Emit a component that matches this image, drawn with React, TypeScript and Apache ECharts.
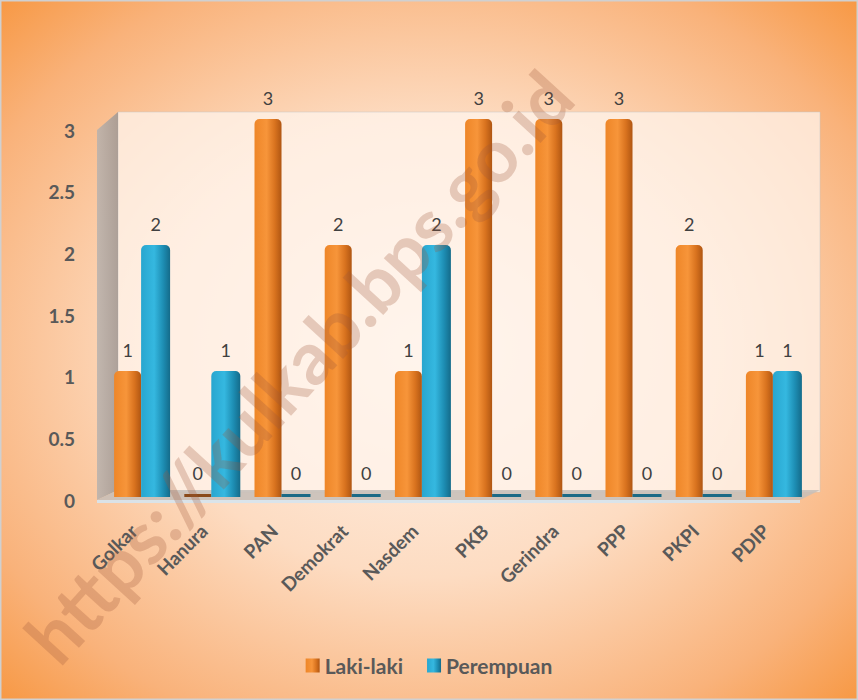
import React, { useEffect, useRef } from "react";
import * as echarts from "echarts";

const categories = ["Golkar", "Hanura", "PAN", "Demokrat", "Nasdem", "PKB", "Gerindra", "PPP", "PKPI", "PDIP"];
const lakiLaki = [1, 0, 3, 2, 1, 3, 3, 3, 2, 1];
const perempuan = [2, 1, 0, 0, 2, 0, 0, 0, 0, 1];
const seriesNames = ["Laki-laki", "Perempuan"];
const yTicks = [0, 0.5, 1, 1.5, 2, 2.5, 3];

const FONT = "Lato, 'Open Sans', sans-serif";

export default function App() {
  const ref = useRef<HTMLDivElement>(null);
  useEffect(() => {
    document.body.style.margin = "0";
    const chart = echarts.init(ref.current!, null, { renderer: "svg" });
    const orange = new echarts.graphic.LinearGradient(0, 0, 1, 0, [
      { offset: 0, color: "#EE8628" },
      { offset: 0.45, color: "#F7953A" },
      { offset: 0.75, color: "#D9731F" },
      { offset: 1, color: "#B05612" },
    ]);
    const blue = new echarts.graphic.LinearGradient(0, 0, 1, 0, [
      { offset: 0, color: "#28A6CF" },
      { offset: 0.45, color: "#35B8E0" },
      { offset: 0.75, color: "#1E8FB5" },
      { offset: 1, color: "#146B8A" },
    ]);
    const labelStyle = {
      show: true,
      position: "top" as const,
      distance: 12,
      color: "#404040",
      fontFamily: FONT,
      fontSize: 18,
    };
    const toData = (arr: number[], stub: string) =>
      arr.map((v) => (v === 0 ? { value: v, itemStyle: { color: stub, borderRadius: 0 } } : v));
    const yMin = yTicks[0];
    const yMax = yTicks[yTicks.length - 1];
    chart.setOption({
      animation: false,
      backgroundColor: {
        type: "radial",
        x: 0.5,
        y: 0.5,
        r: 0.72,
        colorStops: [
          { offset: 0, color: "#FFF4EC" },
          { offset: 0.45, color: "#FDDCC2" },
          { offset: 0.8, color: "#F9B27A" },
          { offset: 1, color: "#F7963F" },
        ],
      },
      graphic: [
        {
          type: "rect",
          shape: { x: 0.5, y: 0.5, width: 857, height: 699 },
          style: { fill: "none", stroke: "#D0D0D0", lineWidth: 2 },
          silent: true,
        },
        {
          type: "rect",
          shape: { x: 118, y: 112, width: 702, height: 380 },
          style: { fill: "rgba(255,244,236,0.75)", stroke: "rgba(200,200,200,0.5)", lineWidth: 1 },
          silent: true,
          z: -10,
        },
        {
          type: "polygon",
          shape: { points: [[97, 130], [118, 112], [118, 490], [97, 500]] },
          style: {
            fill: new echarts.graphic.LinearGradient(0, 0, 1, 0, [
              { offset: 0, color: "#B8B2AE" },
              { offset: 1, color: "#A09894" },
            ]),
            opacity: 0.85,
          },
          silent: true,
          z: -10,
        },
        {
          type: "polygon",
          shape: { points: [[97, 500], [118, 490], [820, 490], [800, 500]] },
          style: { fill: "#C6BEB8", opacity: 0.85 },
          silent: true,
          z: -10,
        },
        {
          type: "polygon",
          shape: { points: [[97, 500], [800, 500], [800, 503], [97, 503]] },
          style: { fill: "#D6E4EE", opacity: 0.9 },
          silent: true,
          z: -10,
        },
        {
          type: "text",
          x: 298,
          y: 366,
          rotation: 0.83,
          style: {
            text: "https://kulkab.bps.go.id",
            font: "bold 74px " + FONT,
            fill: "rgba(160,90,60,0.27)",
            align: "center",
            verticalAlign: "middle",
          },
          silent: true,
          z: 100,
        },
      ],
      grid: [
        { left: 107, right: 49, top: 130, bottom: 200, containLabel: false },
        { left: 107, right: 49, top: 119, bottom: 203, containLabel: false },
      ],
      legend: {
        data: seriesNames,
        top: 650,
        left: "center",
        itemWidth: 14,
        itemHeight: 14,
        itemGap: 24,
        icon: "rect",
        textStyle: { color: "#595959", fontFamily: FONT, fontSize: 21, fontWeight: "bold" },
      },
      xAxis: [
        {
          type: "category",
          gridIndex: 0,
          data: categories,
          show: false,
        },
        {
          type: "category",
          gridIndex: 1,
          data: categories,
          axisLine: { show: false },
          axisTick: { show: false },
          axisLabel: {
            rotate: 45,
            interval: 0,
            margin: 22,
            padding: [0, 12, 0, 0],
            color: "#595959",
            fontFamily: FONT,
            fontSize: 19,
            fontWeight: "bold",
          },
        },
      ],
      yAxis: [
        {
          type: "value",
          gridIndex: 0,
          min: yMin,
          max: yMax,
          interval: 0.5,
          axisLine: { show: false },
          axisTick: { show: false },
          splitLine: { show: false },
          axisLabel: {
            margin: 32,
            color: "#595959",
            fontFamily: FONT,
            fontSize: 19,
            fontWeight: "bold",
          },
        },
        {
          type: "value",
          gridIndex: 1,
          min: yMin,
          max: yMax,
          interval: 0.5,
          show: false,
          splitLine: { show: false },
        },
      ],
      series: [
        {
          name: seriesNames[0],
          type: "bar",
          xAxisIndex: 1,
          yAxisIndex: 1,
          data: toData(lakiLaki, "#8A4A1A"),
          barWidth: 27,
          barGap: "0%",
          barMinHeight: 3,
          itemStyle: { color: orange, borderRadius: [5, 5, 0, 0] },
          label: labelStyle,
        },
        {
          name: seriesNames[1],
          type: "bar",
          xAxisIndex: 1,
          yAxisIndex: 1,
          data: toData(perempuan, "#1B6A86"),
          barWidth: 29,
          barGap: "0%",
          barMinHeight: 3,
          itemStyle: { color: blue, borderRadius: [5, 5, 0, 0] },
          label: labelStyle,
        },
      ],
    });
    return () => chart.dispose();
  }, []);
  return <div ref={ref} style={{ position: "absolute", left: 0, top: 0, width: 858, height: 700 }} />;
}
